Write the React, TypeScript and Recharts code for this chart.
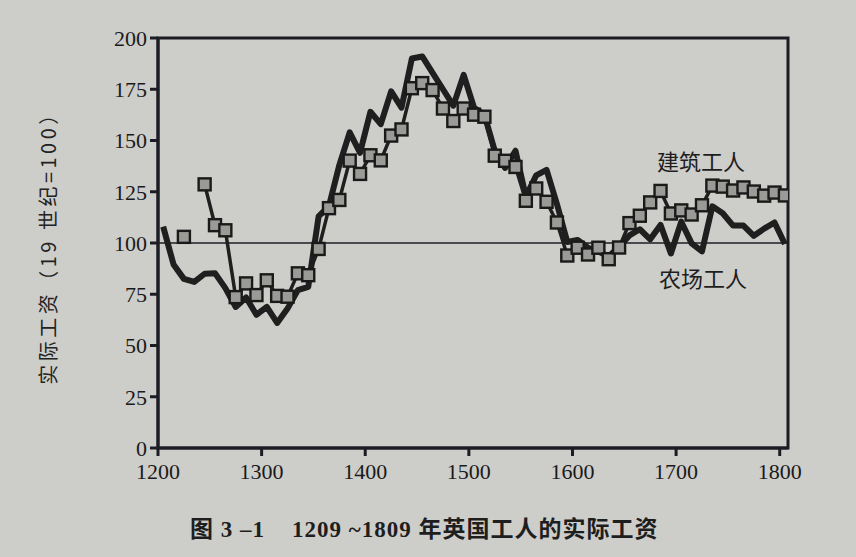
import React from 'react';
import { LineChart, Line, XAxis, YAxis, ReferenceLine, ReferenceArea } from 'recharts';

// Decade mid-points (years)
const years = [
  1205, 1215, 1225, 1235, 1245, 1255, 1265, 1275, 1285, 1295,
  1305, 1315, 1325, 1335, 1345, 1355, 1365, 1375, 1385, 1395,
  1405, 1415, 1425, 1435, 1445, 1455, 1465, 1475, 1485, 1495,
  1505, 1515, 1525, 1535, 1545, 1555, 1565, 1575, 1585, 1595,
  1605, 1615, 1625, 1635, 1645, 1655, 1665, 1675, 1685, 1695,
  1705, 1715, 1725, 1735, 1745, 1755, 1765, 1775, 1785, 1795,
  1805,
];

// 农场工人 (farm workers) real wage, 19th century = 100
const farmWorkers = [
  108, 89.5, 82.5, 81, 85, 85.3, 78, 68.8, 73.4, 65,
  68.8, 61, 68, 77, 78.6, 113, 118, 138, 154, 144,
  164, 158, 174, 166, 190, 191, 183, 175, 167, 182,
  166, 162.6, 145, 136.6, 145, 122.6, 133, 135.7, 119, 100.5,
  101.5, 97.7, 95.8, 93.5, 98.2, 103.7, 106.7, 101.8, 108.8, 94.9,
  110.4, 99.8, 95.9, 117.9, 114.5, 108.5, 108.5, 103.5, 107, 110,
  99.5,
];

// 建筑工人 (building workers) real wage, 19th century = 100
const buildingWorkers = [
  null, null, 103, null, 128.6, 108.7, 106.2, 73.6, 80.3, 74.6,
  81.8, 74.2, 73.8, 85.2, 84.3, 97.1, 117, 121, 140.2, 133.7,
  142.8, 140.3, 152.4, 155.4, 175.5, 178, 174.6, 165.6, 159.5, 165.6,
  162.6, 161.6, 142.6, 140.1, 137.1, 120.6, 126.6, 120.1, 110, 93.9,
  97.7, 94.4, 97.7, 92.1, 97.8, 109.7, 113.3, 119.8, 125.4, 114.4,
  115.9, 113.9, 118.4, 128, 127.5, 125.6, 127.1, 125.1, 123.1, 124.6,
  123.2,
];

const xTicks = [1200, 1300, 1400, 1500, 1600, 1700, 1800];
const yTicks = [0, 25, 50, 75, 100, 125, 150, 175, 200];

const yAxisTitle = '实际工资（19 世纪=100）';
const buildingLabel = '建筑工人';
const farmLabel = '农场工人';
const caption = '图 3 –1    1209 ~1809 年英国工人的实际工资';

const data = years.map((year, i) => ({
  year,
  farm: farmWorkers[i],
  building: buildingWorkers[i],
}));

const INK = '#1c1c24';
const BG = '#cdcdc9';
const X_MAX = 1808;

const SquareDot = (props: any) => {
  const { cx, cy, index } = props;
  if (cx == null || cy == null || props.value == null) return <g key={`d${index}`} />;
  return (
    <rect
      key={`d${index}`}
      x={cx - 6}
      y={cy - 6}
      width={12}
      height={12}
      fill="#9a9a97"
      stroke="#1a1a1a"
      strokeWidth={2.4}
    />
  );
};

const tickStyle = { fontFamily: '"Liberation Serif", serif', fontSize: 22, fill: '#1a1a1a' };

export default function App() {
  return (
    <div style={{ position: 'absolute', left: 0, top: 0, width: 856, height: 557, background: BG, overflow: 'hidden' }}>
      <LineChart
        width={856}
        height={500}
        data={data}
        margin={{ top: 38, right: 68, left: 98, bottom: 12 }}
      >
        <XAxis
          dataKey="year"
          type="number"
          domain={[1200, X_MAX]}
          ticks={xTicks}
          allowDataOverflow
          height={40}
          tickSize={8}
          tickMargin={7}
          axisLine={{ stroke: INK, strokeWidth: 3 }}
          tickLine={{ stroke: INK, strokeWidth: 3 }}
          tick={tickStyle}
        />
        <YAxis
          type="number"
          domain={[0, 200]}
          ticks={yTicks}
          width={60}
          tickSize={8}
          tickMargin={3}
          axisLine={{ stroke: INK, strokeWidth: 3 }}
          tickLine={{ stroke: INK, strokeWidth: 3 }}
          tick={tickStyle}
        />
        <ReferenceArea
          x1={1200}
          x2={X_MAX}
          y1={0}
          y2={200}
          fill="none"
          fillOpacity={0}
          stroke={INK}
          strokeWidth={3}
          ifOverflow="visible"
        />
        <ReferenceLine y={100} stroke={INK} strokeWidth={1.6} />
        <Line
          type="linear"
          dataKey="farm"
          stroke="#1f1f1f"
          strokeWidth={6}
          strokeLinejoin="round"
          dot={false}
          isAnimationActive={false}
        />
        <Line
          type="linear"
          dataKey="building"
          stroke="#1f1f1f"
          strokeWidth={3.5}
          dot={SquareDot}
          activeDot={false}
          connectNulls={false}
          isAnimationActive={false}
        />
      </LineChart>
      <div
        style={{
          position: 'absolute',
          left: 47,
          top: 243,
          transform: 'translate(-50%, -50%) rotate(-90deg)',
          whiteSpace: 'nowrap',
          fontFamily: '"Noto Sans CJK SC", sans-serif',
          fontSize: 20,
          letterSpacing: 3.5,
          color: '#222',
        }}
      >
        {yAxisTitle}
      </div>
      <div
        style={{
          position: 'absolute',
          left: 657,
          top: 144,
          fontFamily: '"Noto Sans CJK SC", sans-serif',
          fontSize: 22,
          color: '#1e1e1e',
          whiteSpace: 'nowrap',
        }}
      >
        {buildingLabel}
      </div>
      <div
        style={{
          position: 'absolute',
          left: 659,
          top: 261,
          fontFamily: '"Noto Sans CJK SC", sans-serif',
          fontSize: 22,
          color: '#1e1e1e',
          whiteSpace: 'nowrap',
        }}
      >
        {farmLabel}
      </div>
      <div
        style={{
          position: 'absolute',
          left: 190,
          top: 510,
          fontFamily: '"Liberation Serif", "Noto Sans CJK SC", serif',
          fontWeight: 'bold',
          fontSize: 23,
          letterSpacing: 1,
          color: '#1e1e1e',
          whiteSpace: 'pre',
        }}
      >
        {caption}
      </div>
    </div>
  );
}
